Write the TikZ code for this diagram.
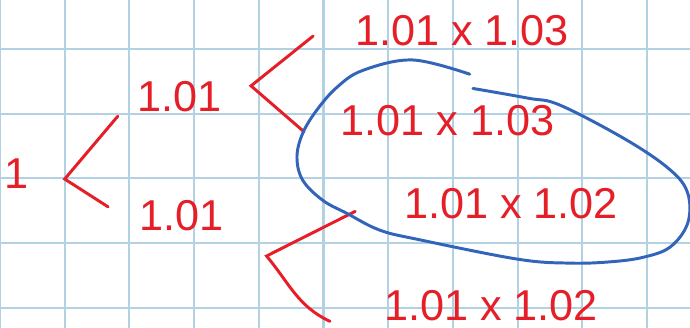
\documentclass[tikz,border=0pt]{standalone}
\usepackage{fontspec}
\setmainfont{Liberation Sans}
\definecolor{rouge}{RGB}{230,30,40}
\definecolor{bleu}{RGB}{50,100,185}
\definecolor{quadrillage}{RGB}{178,210,228}
\begin{document}
\begin{tikzpicture}[
branche/.style={draw=rouge, line width=1.3pt, line cap=round},
valeur/.style={text=rouge, font=\fontsize{19}{19}\selectfont, inner sep=0pt},
boucle/.style={draw=bleu, line width=1.3pt, line cap=round}
]

% Feuille
\useasboundingbox (0,-0.312) rectangle (10.665,4.757);
\fill[white] (0,-0.312) rectangle (10.665,4.757);
\draw[quadrillage, line width=0.9pt] (0,-0.312) grid (10.665,4.757);

% Valeurs
\node[valeur] (un) at (0.25,2.08) {1};
\node[valeur] (haut) at (2.77,3.27) {1.01};
\node[valeur] (bas) at (2.80,1.43) {1.01};

\node[valeur] (hauthaut) at (7.14,4.29) {1.01 x 1.03};
\node[valeur] (hautbas) at (6.92,2.90) {1.01 x 1.03};
\node[valeur] (bashaut) at (7.90,1.61) {1.01 x 1.02};
\node[valeur] (basbas) at (7.59,0.04) {1.01 x 1.02};

% Branches
\coordinate (s0) at (1.00,1.99);
\coordinate (a0) at (1.82,2.96);
\coordinate (b0) at (1.67,1.56);

\coordinate (s1) at (3.88,3.43);
\coordinate (a1) at (4.84,4.20);
\coordinate (b1) at (4.70,2.72);

\coordinate (s2) at (4.12,0.80);
\coordinate (a2) at (5.49,1.49);
\coordinate (b2) at (5.10,-0.21);

\draw[branche] (a0) -- (s0) -- (b0);
\draw[branche] (a1) -- (s1) -- (b1);
\draw[branche] (a2) -- (s2) to[out=-50,in=155] (b2);

% Boucle
\draw[boucle] plot[smooth, tension=0.6] coordinates {
(7.31,3.39)
(8.16,3.24)
(8.66,3.13)
(9.69,2.59)
(10.36,2.13)
(10.63,1.77)
(10.63,1.31)
(10.36,0.94)
(9.94,0.78)
(9.43,0.71)
(8.81,0.69)
(8.01,0.75)
(6.49,1.05)
(5.87,1.20)
(5.36,1.46)
(4.99,1.66)
(4.68,1.97)
(4.59,2.33)
(4.68,2.70)
(4.90,3.06)
(5.21,3.41)
(5.61,3.67)
(6.38,3.83)
(7.26,3.61)
};

\end{tikzpicture}
\end{document}
